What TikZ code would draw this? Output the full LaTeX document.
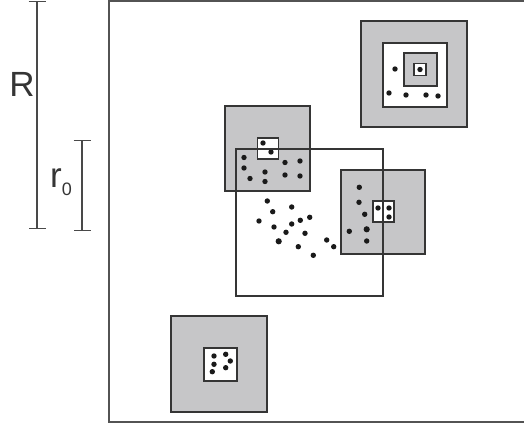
\documentclass[tikz,border=0pt]{standalone}
\usepackage{fontspec}
\usetikzlibrary{arrows.meta}
\newfontfamily\labelfont{Liberation Sans}
\definecolor{boxgray}{HTML}{C6C6C8}
\definecolor{linegray}{HTML}{353535}
\definecolor{dotgray}{HTML}{1A1A1A}
\begin{document}
\begin{tikzpicture}[
        x=1pt,
        y=-1pt,
        font=\labelfont
    ]
    \tikzset{
        graybox/.style = {rectangle, draw=linegray, line width=1.4pt, fill=boxgray, inner sep=0pt, minimum size=#1},
        whitebox/.style = {rectangle, draw=linegray, line width=1.3pt, fill=white, inner sep=0pt, minimum size=#1},
        openbox/.style = {rectangle, draw=linegray, line width=1.4pt, inner sep=0pt, minimum size=#1},
        frameline/.style = {draw=linegray!85, line width=2pt},
        dimbar/.style = {draw=linegray!90, line width=1.1pt, {Bar[width=17pt]}-{Bar[width=17pt]}},
        dot/.style = {fill=dotgray},
    }
    \useasboundingbox (0,0) rectangle (524,425);
    % outer region
    \coordinate (fr1) at (530,1);
    \coordinate (fr2) at (109,1);
    \coordinate (fr3) at (109,422);
    \coordinate (fr4) at (530,422);
    \draw[frameline] (fr1) -- (fr2) -- (fr3) -- (fr4);
    %
    \coordinate (rtop) at (37,1);
    \coordinate (rbot) at (37,229);
    \coordinate (r0top) at (82,140);
    \coordinate (r0bot) at (82,231);
    \draw[dimbar] (rtop) -- (rbot);
    \draw[dimbar] (r0top) -- (r0bot);
    \node[text=linegray, font=\labelfont\fontsize{35}{35}\selectfont] at (22,84) (rlab) {R};
    \node[text=linegray, font=\labelfont\fontsize{35}{35}\selectfont] at (61,182) (r0lab) {r{\fontsize{18}{18}\selectfont\raisebox{-8pt}{0}}};
    %
    \node[graybox=106pt] at (414,74) (sqa) {};
    \node[whitebox=64pt] at (415,75) (sqaw) {};
    \node[graybox=33pt] at (420.5,69.5) (sqag) {};
    \node[whitebox=12pt] at (420,69.5) (sqat) {};
    \foreach \p in {(420,69.5),(395,69),(389,93),(406,95),(426,95),(438,96)}
        \fill[dot] \p circle (2.7);
    %
    \node[graybox=85pt] at (267.5,148.5) (sqb) {};
    \node[whitebox=21pt] at (268,148.5) (sqbw) {};
    \foreach \p in {(263,143),(271,152),(244,157.5),(244,168),(250,178.5),(265,172),(265,181.5),
                    (285,162.5),(300,161),(285,175),(300,176)}
        \fill[dot] \p circle (2.7);
    %
    \node[graybox=84pt] at (383,212) (sqc) {};
    \node[whitebox=21pt] at (383.5,211.5) (sqcw) {};
    \foreach \p in {(378,208),(389,208),(389,217),(359.3,187.3),(359,202.3),(364.7,214.3),
                    (349.3,231.3),(366.7,241)}
        \fill[dot] \p circle (2.7);
    \fill[dot] (366.7,229.3) circle (3.1);
    %
    \node[graybox=96pt] at (219,364) (sqd) {};
    \node[whitebox=33pt] at (220.5,364.5) (sqdw) {};
    \foreach \p in {(214,356),(225.7,354.3),(214,364.3),(230.3,361),(225.7,367.7),(212.3,371.7)}
        \fill[dot] \p circle (2.7);
    %
    \foreach \p in {(267.3,201),(272.7,211.7),(291.7,207),(259,221),(274,227),(291.7,224),
                    (300.3,220.3),(309.7,217.3),(286,232.3),(305,233.3),(298.3,246.7),
                    (313.3,255.3),(326.7,240),(333.7,246.7)}
        \fill[dot] \p circle (2.7);
    \fill[dot] (278.7,241.3) circle (3.1);
    %
    \node[openbox=147pt] at (309.5,222.5) (mid) {};
\end{tikzpicture}
\end{document}
